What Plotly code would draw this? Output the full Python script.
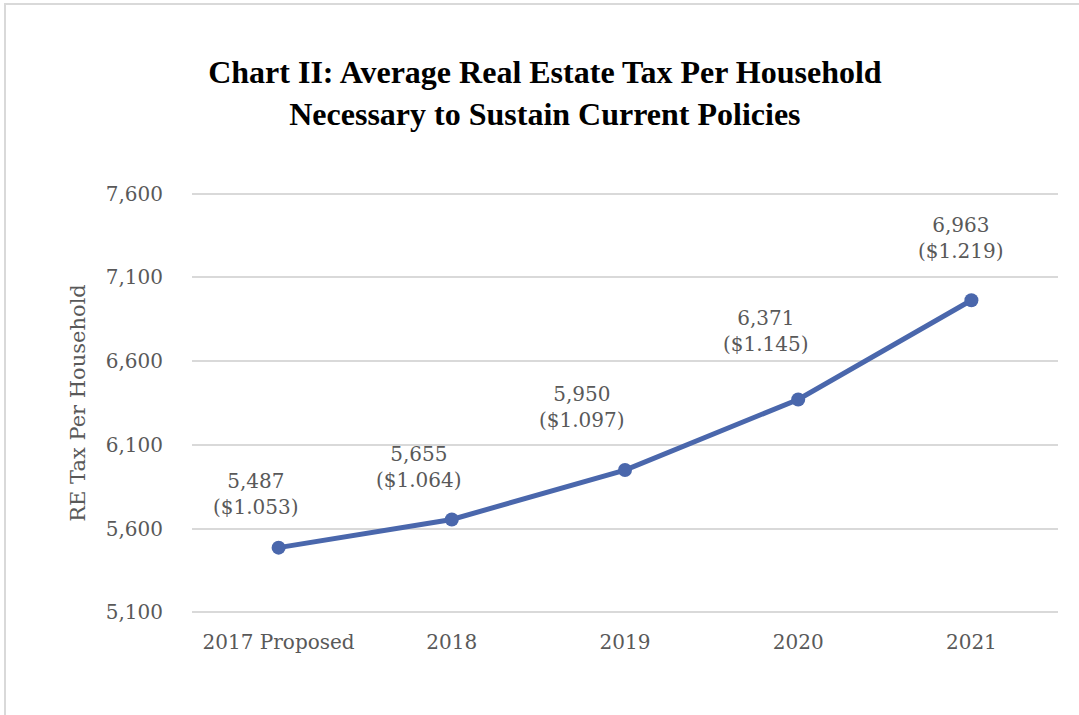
import plotly.graph_objects as go

# Data
years = ["2017 Proposed", "2018", "2019", "2020", "2021"]
re_tax = [5487, 5655, 5950, 6371, 6963]
tax_rate = [1.053, 1.064, 1.097, 1.145, 1.219]
y_ticks = [5100, 5600, 6100, 6600, 7100, 7600]

# Label placement (pixel shifts from each point)
label_shift_x = [-23, -33, -43, -32, -10]
label_shift_y = [54, 52, 63, 68, 62]

W, H = 1079, 715
Y_LO, Y_HI = y_ticks[0], y_ticks[-1]
PAD = 15                      # value padding so the edge gridlines get drawn
K = 418 / (Y_HI - Y_LO)       # pixels per value unit
ML, MR = 192, 21
MT, MB = 194 - PAD * K, 103 - PAD * K
PW, PH = W - ML - MR, H - MT - MB

LINE_COLOR = "#4A67AC"
TEXT_GRAY = "#595959"
GRID = "#D9D9D9"
SERIF = "DejaVu Serif"

fig = go.Figure()
fig.add_trace(go.Scatter(
    x=years, y=re_tax, mode="lines+markers",
    line=dict(color=LINE_COLOR, width=5),
    marker=dict(color=LINE_COLOR, size=14),
    hoverinfo="skip", showlegend=False,
))

# Year names look numeric, so annotations are placed by category index
for i, (v, r, dx, dy) in enumerate(zip(re_tax, tax_rate, label_shift_x, label_shift_y)):
    fig.add_annotation(
        x=i, y=v, text=f"{v:,}<br>(${r:.3f})", showarrow=False,
        xanchor="center", yanchor="middle", xshift=dx, yshift=dy,
        font=dict(family=SERIF, size=20, color=TEXT_GRAY), align="center",
    )

# Outer chart border
def px_x(p):
    return (p - ML) / PW

def px_y(p):
    return (H - MB - p) / PH

fig.add_shape(type="rect", xref="paper", yref="paper",
              x0=px_x(5), x1=px_x(W + 20), y0=px_y(H + 20), y1=px_y(5),
              line=dict(color=GRID, width=2), fillcolor="rgba(0,0,0,0)")

fig.update_layout(
    width=W, height=H,
    margin=dict(l=ML, r=MR, t=MT, b=MB, autoexpand=False),
    paper_bgcolor="white", plot_bgcolor="white",
    title=dict(
        text="Chart II: Average Real Estate Tax Per Household<br>Necessary to Sustain Current Policies",
        x=0.505, xref="container", xanchor="center",
        y=1 - 83 / H, yref="container", yanchor="middle",
        font=dict(family="Liberation Serif", size=32, color="black", weight="bold"),
    ),
    xaxis=dict(
        type="category", categoryorder="array", categoryarray=years,
        range=[-0.5, len(years) - 0.5], autorange=False,
        showgrid=False, showline=False, zeroline=False,
        ticks="outside", ticklen=6 + PAD * K, tickcolor="rgba(0,0,0,0)",
        tickfont=dict(family=SERIF, size=20, color=TEXT_GRAY),
    ),
    yaxis=dict(
        range=[Y_LO - PAD, Y_HI + PAD], tickvals=y_ticks,
        ticktext=[f"{t:,}" for t in y_ticks],
        showgrid=True, gridcolor=GRID, gridwidth=1.5, zeroline=False, showline=False,
        ticks="outside", ticklen=24, tickcolor="rgba(0,0,0,0)",
        tickfont=dict(family=SERIF, size=20, color=TEXT_GRAY),
        title=dict(text="RE Tax Per Household", standoff=14,
                   font=dict(family=SERIF, size=21, color=TEXT_GRAY)),
    ),
)

fig.write_html("out.html")
